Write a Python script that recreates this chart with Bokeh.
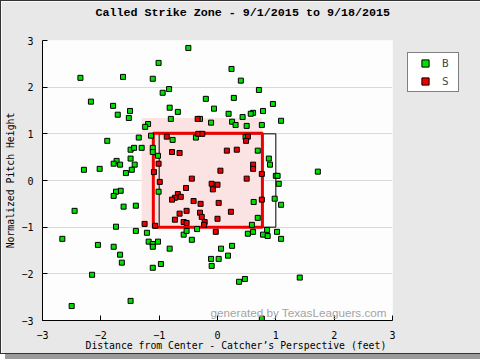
from bokeh.plotting import figure
from bokeh.models import Range1d, Label, Legend, LegendItem, Title
from bokeh.embed import file_html
from bokeh.resources import INLINE

# ---- data (feet) ----
ball_x = [-0.50, -1.01, -2.35, -1.62, -1.11, 0.24, -0.94, -0.83, -2.17, -0.20,
          0.28, -1.79, -1.50, -1.71, -1.52, -0.82, -0.68, -0.06, 0.19, -0.80,
          -0.11, 0.25, -1.19, -1.24, -0.30, -1.89, -1.35, -1.14, -0.77, -0.37,
          -1.49, -1.43, -1.30, -1.11, -1.11, -1.02, -1.73, -1.78, -1.67, -1.49,
          -1.42, -1.47, -1.57, -2.29, -2.02, -1.66, -1.74, -1.78, 0.40, 0.71,
          0.95, 0.43, 0.61, 0.57, 0.78, 1.09, 0.31, 0.50, 0.76, 0.48,
          0.69, 0.88, 0.90, 1.00, 1.03, 1.05, 1.72, -2.45, -1.61, -1.40,
          -1.01, -1.74, -2.66, -2.05, -1.78, -1.67, -1.64, -1.40, -1.21, -1.18,
          -1.11, -1.02, -1.11, -0.82, -0.58, -0.53, -0.44, -0.35, -0.97, -1.11,
          -2.15, -1.49, -2.50, -0.11, -0.10, 0.02, 0.06, 0.18, 0.62, 0.69,
          0.59, 0.98, 1.09, 0.85, 0.78, 0.86, 0.61, 0.52, 1.02, 1.09,
          0.25, 0.37, 0.47, 1.41, 0.76, 0.61, -0.47, 2.80]
ball_y = [2.84, 2.52, 2.20, 2.22, 2.18, 2.39, 1.88, 1.96, 1.69, 1.75,
          1.77, 1.60, 1.49, 1.41, 1.34, 1.56, 1.47, 1.54, 1.43, 1.32,
          1.24, 1.26, 1.21, 1.15, 1.32, 0.85, 0.92, 0.96, 0.87, 0.92,
          0.66, 0.70, 0.70, 0.70, 0.61, 0.53, 0.42, 0.36, 0.34, 0.47,
          0.34, 0.23, 0.16, 0.23, 0.25, -0.22, -0.24, -0.33, 2.14, 1.94,
          1.64, 1.36, 1.45, 1.43, 1.49, 1.28, 1.19, 1.17, 1.19, 0.93,
          0.64, 0.47, 0.34, 0.10, 0.10, -0.07, 0.19, -0.65, -0.56, -0.54,
          -0.24, -0.99, -1.25, -1.38, -1.42, -1.59, -1.76, -1.08, -1.12, -1.31,
          -1.36, -1.31, -1.42, -1.46, -1.16, -1.08, -1.27, -1.04, -1.79, -1.87,
          -2.02, -2.58, -2.69, -1.68, -1.83, -1.68, -1.46, -1.61, -0.46, -0.80,
          -0.95, -0.39, -0.52, -1.06, -1.16, -1.19, -1.10, -1.14, -1.10, -1.25,
          -1.40, -2.17, -2.11, -2.08, -2.96, 3.23, 3.66, 3.80]

strike_x = [-0.34, -0.33, -0.26, -0.87, -0.78, -0.65, 0.16, -1.01, -1.09, 0.05,
            -0.44, -0.10, 0.00, -0.54, -0.99, -0.08, 0.52, 0.49, 0.33, 0.61,
            0.61, 0.50, 0.76, -0.68, -0.73, -0.78, -0.63, -0.41, -0.29, 0.02,
            0.23, -0.53, -0.65, -0.30, -0.27, -0.73, -0.58, -0.53, -0.22, -0.23,
            0.00, -1.25, -1.07, -0.03, 0.76]
strike_y = [1.32, 1.00, 1.00, 0.94, 0.61, 0.59, 0.64, 0.36, 0.18, 0.21,
            0.04, -0.07, -0.09, -0.16, -0.03, -0.19, 0.94, 0.85, 0.66, 0.34,
            0.25, 0.04, 0.14, -0.29, -0.37, -0.41, -0.35, -0.44, -0.50, -0.48,
            -0.67, -0.65, -0.71, -0.69, -0.78, -0.84, -0.89, -0.91, -0.89, -0.95,
            -0.82, -0.93, -0.97, -1.10, -0.41]

rule_zone_x = [-1.00, 1.00]
rule_zone_y = [-1.00, 1.00]
called_zone_x = [-1.10, 0.77]
called_zone_y = [-1.00, 1.01]
shade_x = [-1.30, 0.77]
shade_y = [-1.00, 1.34]

ticks = [-3, -2, -1, 0, 1, 2, 3]
tick_labels = {-3: "\u22123", -2: "\u22122", -1: "\u22121", 0: "0", 1: "1", 2: "2", 3: "3"}

title_text = "Called Strike Zone - 9/1/2015 to 9/18/2015"
xlabel_text = "Distance from Center - Catcher\u2019s Perspective (feet)"
ylabel_text = "Normalized Pitch Height"
watermark_text = "generated by TexasLeaguers.com"

MONO = "DejaVu Sans Mono"
BG = "#e8e8e8"

p = figure(frame_width=350, frame_height=280,
           min_border_left=39, min_border_right=84, min_border_top=39, min_border_bottom=33,
           x_range=Range1d(-3, 3), y_range=Range1d(-3, 3),
           output_backend="svg", toolbar_location=None,
           background_fill_color="#fdfdfd", border_fill_color=BG,
           outline_line_color=None)
p.styles = {"border": "1px solid #333333", "box-shadow": "5px 5px 0px #9a9a9a"}

for ax in (p.xaxis, p.yaxis):
    ax.ticker = ticks
    ax.major_label_overrides = tick_labels
    ax.major_tick_in = 5
    ax.major_tick_out = 0
    ax.minor_tick_line_color = None
    ax.axis_line_color = "black"
    ax.major_tick_line_color = "black"
    ax.major_label_text_font = MONO
    ax.major_label_text_font_size = "10px"
    ax.major_label_text_color = "black"
p.xaxis.major_label_standoff = 10
p.yaxis.major_label_standoff = 9
p.xgrid.grid_line_color = None
p.ygrid.ticker = ticks
p.ygrid.grid_line_color = "#d9d9d9"

# titles in the side panels (a background-coloured spacer lifts the chart title to the top)
p.add_layout(Title(text=".", text_font_size="2px", text_color=BG, standoff=17), "above")
p.add_layout(Title(text=title_text, text_font="Liberation Mono", text_font_style="bold",
                   text_font_size="11.7px", align="left", offset=53, vertical_align="middle",
                   standoff=0, text_color="black"), "above")
p.add_layout(Title(text=xlabel_text, text_font=MONO, text_font_style="normal",
                   text_font_size="9.8px", align="left", offset=43, vertical_align="top",
                   standoff=-4, text_color="black"), "below")
p.add_layout(Title(text=ylabel_text, text_font=MONO, text_font_style="normal",
                   text_font_size="9.8px", align="center", vertical_align="middle",
                   standoff=4, text_color="black"), "left")

# zone shading and outlines
p.quad(left=[shade_x[0]], right=[shade_x[1]], bottom=[shade_y[0]], top=[shade_y[1]],
       fill_color="#fce3e3", line_color=None)
p.quad(left=[rule_zone_x[0]], right=[rule_zone_x[1]], bottom=[rule_zone_y[0]], top=[rule_zone_y[1]],
       fill_color=None, line_color="black", line_width=1)
p.quad(left=[called_zone_x[0]], right=[called_zone_x[1]], bottom=[called_zone_y[0]], top=[called_zone_y[1]],
       fill_color=None, line_color="#ee0000", line_width=3)

GREEN = "#00e000"
RED = "#ee0000"
rb = p.scatter(ball_x, ball_y, marker="square", size=5, fill_color=GREEN, line_color="black", line_width=1)
rs = p.scatter(strike_x, strike_y, marker="square", size=5, fill_color=RED, line_color="black", line_width=1)

legend = Legend(items=[LegendItem(label="B", renderers=[rb]), LegendItem(label="S", renderers=[rs])],
                location=(15, 228), orientation="vertical",
                border_line_color="black", border_line_width=1, background_fill_color="white",
                background_fill_alpha=1.0, padding=1, spacing=0, margin=0,
                glyph_width=32, glyph_height=18, label_standoff=1, label_width=15, label_height=18,
                label_text_font=MONO, label_text_font_size="11px")
p.add_layout(legend, "right")

p.add_layout(Label(x=2.90, y=-2.828, text=watermark_text, text_font="Liberation Sans",
                   text_font_size="11.7px", text_align="right", text_baseline="alphabetic",
                   text_color="#a4a4a4"))

open("out.html", "w").write(file_html(p, INLINE))
